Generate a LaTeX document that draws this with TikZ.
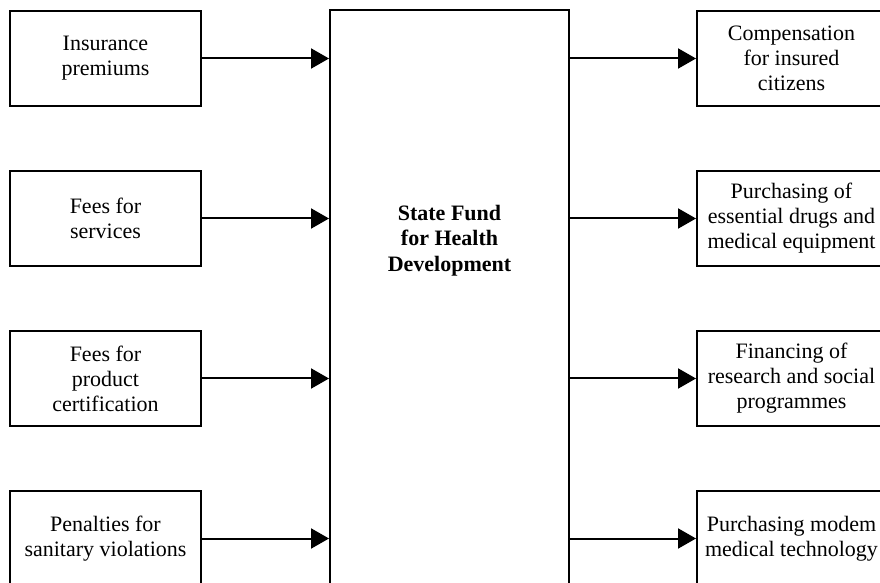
\documentclass[tikz,border=0pt]{standalone}
\usepackage{fontspec}
\setmainfont{Liberation Serif}
\usetikzlibrary{arrows.meta}

\begin{document}
\begin{tikzpicture}[x=0.5pt, y=-0.5pt,
  srcbox/.style={draw, line width=1pt, minimum width=95.5pt, minimum height=47.5pt,
    inner sep=0pt, align=center, font=\fontsize{11}{12.5}\selectfont},
  usebox/.style={srcbox, minimum width=94.5pt},
  fundbox/.style={draw, line width=1pt, minimum width=119.5pt, minimum height=295pt, inner sep=0pt},
  fundtext/.style={align=center, font=\bfseries\fontsize{11}{12.75}\selectfont},
  flow/.style={line width=1pt, -{Triangle[length=9pt, width=10pt]}}]
  \useasboundingbox (0,0) rectangle (880,583);
  \clip (0,0) rectangle (880,583);
  % central fund
  \node[fundbox] (fund) at (449.5,305) {};
  \node[fundtext] (fundname) at (449.5,240.5) {State Fund\\for Health\\Development};
  % sources
  \node[srcbox] (premiums) at (105.5,58.5) {Insurance\\premiums};
  \node[srcbox] (services) at (105.5,218.5) {Fees for\\services};
  \node[srcbox] (certif) at (105.5,378.5) {Fees for\\product\\certification};
  \node[srcbox] (penalties) at (105.5,538.5) {Penalties for\\sanitary violations};
  % uses
  \node[usebox] (compens) at (791.5,58.5) {Compensation\\for insured\\citizens};
  \node[usebox] (drugs) at (791.5,218.5) {Purchasing of\\essential drugs and\\medical equipment};
  \node[usebox] (research) at (791.5,378.5) {Financing of\\research and social\\programmes};
  \node[usebox] (technology) at (791.5,538.5) {Purchasing modem\\medical technology};
  % arrows in
  \draw[flow] (premiums.east) -- (premiums.east -| fund.west);
  \draw[flow] (services.east) -- (services.east -| fund.west);
  \draw[flow] (certif.east) -- (certif.east -| fund.west);
  \draw[flow] (penalties.east) -- (penalties.east -| fund.west);
  % arrows out
  \draw[flow] (compens.west -| fund.east) -- (compens.west);
  \draw[flow] (drugs.west -| fund.east) -- (drugs.west);
  \draw[flow] (research.west -| fund.east) -- (research.west);
  \draw[flow] (technology.west -| fund.east) -- (technology.west);
\end{tikzpicture}
\end{document}
